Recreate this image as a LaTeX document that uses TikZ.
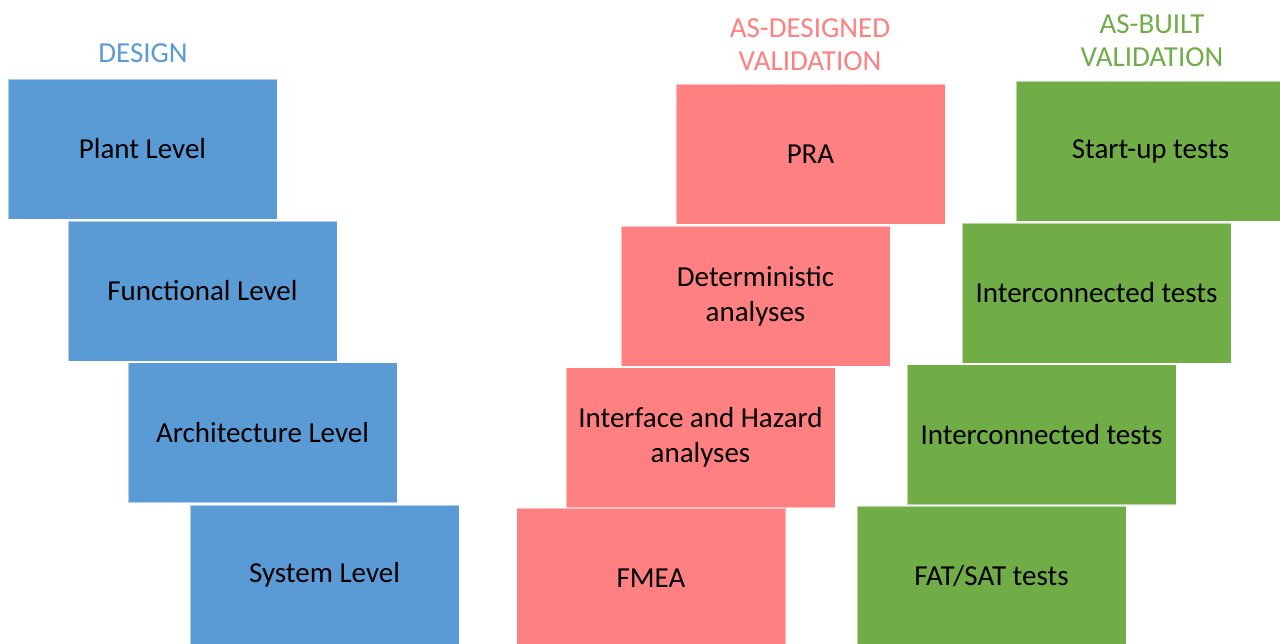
\documentclass[tikz,border=0pt]{standalone}
\usepackage{fontspec}
\setmainfont{Carlito}
\usetikzlibrary{positioning}
\definecolor{dblue}{HTML}{5B9BD5}
\definecolor{vred}{HTML}{FF8080}
\definecolor{bgreen}{HTML}{70AD47}
\begin{document}
\begin{tikzpicture}[x=1pt,y=-1pt,
    lvl/.style={rectangle,minimum width=269pt,minimum height=140pt,inner sep=0pt,
        align=center,draw=white,draw opacity=0.5,line width=1pt,
        font=\fontsize{29}{35}\selectfont},
    head/.style={align=center,font=\fontsize{29}{33}\selectfont}]
	\useasboundingbox (0,0) rectangle (1280,643);
	\begin{scope}
	\clip (0,0) rectangle (1280,643);
	% design
	\node[lvl,fill=dblue] (p) at (142.5,149)  {Plant Level};
	\node[lvl,fill=dblue] (f) at (202.5,291)  {Functional Level};
	\node[lvl,fill=dblue] (a) at (262.5,432.5) {Architecture Level};
	\node[lvl,fill=dblue] (s) at (324.5,575)  {System Level};
	% as-designed
	\node[lvl,fill=vred] (pra) at (810.5,154)  {PRA};
	\node[lvl,fill=vred] (det) at (755.5,296)  {Deterministic\\analyses};
	\node[lvl,fill=vred] (iha) at (700.5,437.5) {Interface and Hazard\\analyses};
	\node[lvl,fill=vred] (fmea) at (651,578)   {FMEA};
	% as-built
	\node[lvl,fill=bgreen] (su)  at (1150.5,151)  {Start-up tests};
	\node[lvl,fill=bgreen] (ic1) at (1096.5,293)  {Interconnected tests};
	\node[lvl,fill=bgreen] (ic2) at (1041.5,434.5) {Interconnected tests};
	\node[lvl,fill=bgreen] (fat) at (991.5,576)   {FAT/SAT tests};
	\end{scope}
	% headers
	\node[head,text=dblue]  (hd) at (143,53)   {DESIGN};
	\node[head,text=vred]   (hv) at (810,44.5) {AS-DESIGNED\\VALIDATION};
	\node[head,text=bgreen] (hb) at (1152,40.5) {AS-BUILT\\VALIDATION};
\end{tikzpicture}
\end{document}
